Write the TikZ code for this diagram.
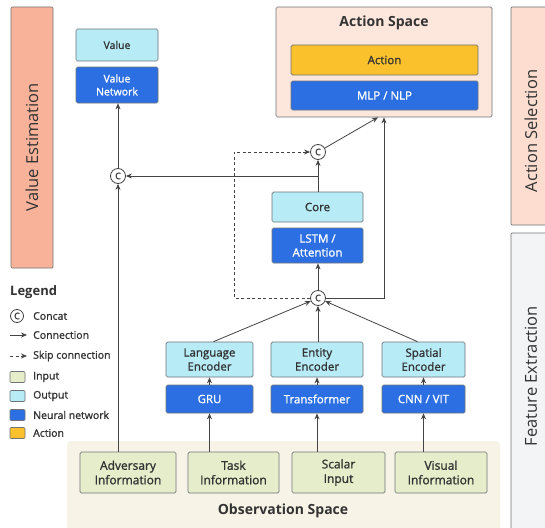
\documentclass[tikz,border=0pt]{standalone}
\usepackage{fontspec}
\setmainfont{Open Sans}
\newfontfamily\med{Open Sans}[FakeBold=1.2]
\usetikzlibrary{arrows.meta,calc}
\definecolor{salmon}{HTML}{F8B29A}
\definecolor{peach}{HTML}{FCDDD0}
\definecolor{aspace}{HTML}{FDE7DD}
\definecolor{cyanbox}{HTML}{B7ECF7}
\definecolor{bluebox}{HTML}{2C6FE2}
\definecolor{yellowbox}{HTML}{FBC12C}
\definecolor{greenbox}{HTML}{E5EDCA}
\definecolor{obsbg}{HTML}{F8F3E7}
\definecolor{featbg}{HTML}{F2F4F6}
\definecolor{edge}{HTML}{707478}
\definecolor{txt}{HTML}{333333}
\definecolor{lines}{HTML}{444444}
\tikzset{
  bx/.style={draw=edge, line width=0.7pt, rounded corners=1.5pt, align=center, inner sep=0pt, text=txt},
  outbox/.style={bx, fill=cyanbox, font=\med\fontsize{11.5}{14}\selectfont},
  nnbox/.style={bx, fill=bluebox, text=white, font=\med\fontsize{11.5}{14}\selectfont},
  smallbox/.style={font=\med\fontsize{10.5}{13}\selectfont},
  inbox/.style={bx, fill=greenbox, font=\med\fontsize{12}{14.5}\selectfont, minimum width=92pt, minimum height=41pt},
  cc/.style={circle, draw=lines, fill=white, line width=0.8pt, minimum size=15pt, inner sep=0pt, font=\med\fontsize{9}{9}\selectfont, text=txt},
  conn/.style={draw=lines, line width=0.8pt, -{Stealth[length=6pt,width=5pt]}},
  skip/.style={conn, dashed, dash pattern=on 3pt off 2.5pt},
  bar/.style={draw=edge, line width=0.7pt, rounded corners=1pt},
  bartext/.style={rotate=90, font=\fontsize{16.5}{19}\selectfont, text=txt},
  legtxt/.style={anchor=west, font=\med\fontsize{10.5}{12}\selectfont, text=txt, inner sep=0pt},
  legsq/.style={draw=edge, line width=0.6pt, rounded corners=1pt, minimum width=15pt, minimum height=11pt, inner sep=0pt},
  title/.style={font=\bfseries\fontsize{14}{16}\selectfont, text=txt}
}
\begin{document}
\begin{tikzpicture}[x=1pt,y=1pt]
\useasboundingbox (0,0) rectangle (545,-527);
\fill[white] (0,0) rectangle (545,-527);

% side bars
\draw[bar, fill=salmon] (11,-7) rectangle (53,-268);
\node[bartext] (ve) at (32,-147) {Value Estimation};
\draw[bar, fill=peach] (511,-7) rectangle (556,-225);
\node[bartext] (as) at (531,-131) {Action Selection};
\draw[bar, fill=featbg] (511,-233) rectangle (556,-540);
\node[bartext] (fe) at (531,-376) {Feature Extraction};

% observation space
\fill[obsbg, rounded corners=4pt] (67,-441) rectangle (500,-540);
\node[title] (obst) at (283,-511) {Observation Space};

% action space
\node[draw=edge, line width=0.7pt, rounded corners=1.5pt, fill=aspace, minimum width=216pt, minimum height=110pt, inner sep=0pt] (aspace) at (384,-62) {};
\node[title] (ast) at (384,-23) {Action Space};
\node[bx, fill=yellowbox, font=\med\fontsize{11.5}{14}\selectfont, minimum width=187pt, minimum height=30pt] (action) at (384.5,-60) {Action};
\node[nnbox, minimum width=187pt, minimum height=29pt] (mlp) at (384.5,-95.5) {MLP / NLP};

% value
\node[outbox, smallbox, minimum width=82pt, minimum height=32pt] (value) at (117,-45) {Value};
\node[nnbox, smallbox, minimum width=82pt, minimum height=36pt] (valnet) at (117,-85) {Value\\Network};

% core
\node[outbox, minimum width=91pt, minimum height=30pt] (core) at (317.5,-207) {Core};
\node[nnbox, minimum width=91pt, minimum height=35pt] (lstm) at (317.5,-245.5) {LSTM /\\Attention};

% concat nodes
\node[cc] (cL) at (118,-176) {C};
\node[cc] (cU) at (318,-152) {C};
\node[cc] (cM) at (318,-298) {C};

% encoders
\node[outbox, minimum width=87pt, minimum height=35pt] (lang) at (209.5,-359.5) {Language\\Encoder};
\node[nnbox, minimum width=87pt, minimum height=28pt] (gru) at (209.5,-399) {GRU};
\node[outbox, minimum width=92pt, minimum height=35pt] (ent) at (317,-359.5) {Entity\\Encoder};
\node[nnbox, minimum width=92pt, minimum height=28pt] (trf) at (317,-399) {Transformer};
\node[outbox, minimum width=83pt, minimum height=35pt] (spat) at (423.5,-359.5) {Spatial\\Encoder};
\node[nnbox, minimum width=83pt, minimum height=28pt] (cnn) at (423.5,-399) {CNN / VIT};

% inputs
\node[inbox, minimum width=96pt] (adv) at (128,-472.5) {Adversary\\Information};
\node[inbox, minimum width=91pt] (task) at (233.5,-472.5) {Task\\Information};
\node[inbox, minimum width=93pt] (scal) at (338.5,-472.5) {Scalar\\Input};
\node[inbox, minimum width=92pt] (vis) at (441,-472.5) {Visual\\Information};

% connections
\draw[conn] (adv.north -| cL) -- (cL);
\draw[conn] (cL) -- (valnet.south -| cL);
\draw[conn] (task.north -| gru) -- (gru.south);
\draw[conn] (scal.north -| trf) -- (trf.south);
\draw[conn] (vis.north -| cnn) -- (cnn.south);
\draw[conn] (gru.north) -- (lang.south);
\draw[conn] (trf.north) -- (ent.south);
\draw[conn] (cnn.north) -- (spat.south);
\draw[conn] ([xshift=4pt]lang.north) -- (cM);
\draw[conn] (ent.north -| cM) -- (cM);
\draw[conn] ([xshift=-6pt]spat.north) -- (cM);
\draw[conn] (cM) -- (lstm.south -| cM);
\draw[conn] (core.north -| cU) -- (cU);
\coordinate (br) at (cU |- cL);
\draw[conn] (br) -- (cL);
\draw[conn] (cU) -- ([xshift=-6pt]aspace.south);
\draw[conn] (cM.east) -- (cM.east -| aspace.south) -- (aspace.south);
\coordinate (sk1) at (234,-298);
\coordinate (sk2) at (234,-152);
\draw[skip] (cM.west) -- (sk1) -- (sk2) -- (cU.west);

% legend
\node[anchor=west, font=\bfseries\fontsize{13}{15}\selectfont, text=txt, inner sep=0pt] (leg) at (10,-292) {Legend};
\node[cc, minimum size=13pt] (lc) at (17,-316) {C};
\node[legtxt] (lct) at (33,-316) {Concat};
\coordinate (la1) at (10,-335);
\coordinate (la2) at (27,-335);
\draw[conn] (la1) -- (la2);
\node[legtxt] (lat) at (33,-335) {Connection};
\coordinate (ls1) at (10,-356);
\coordinate (ls2) at (27,-356);
\draw[skip] (ls1) -- (ls2);
\node[legtxt] (lst) at (33,-356) {Skip connection};
\node[legsq, fill=greenbox] (q1) at (17.5,-377) {};
\node[legtxt] (q1t) at (33,-377) {Input};
\node[legsq, fill=cyanbox] (q2) at (17.5,-396) {};
\node[legtxt] (q2t) at (33,-396) {Output};
\node[legsq, fill=bluebox] (q3) at (17.5,-415) {};
\node[legtxt] (q3t) at (33,-415) {Neural network};
\node[legsq, fill=yellowbox] (q4) at (17.5,-433) {};
\node[legtxt] (q4t) at (33,-433) {Action};
\end{tikzpicture}
\end{document}
